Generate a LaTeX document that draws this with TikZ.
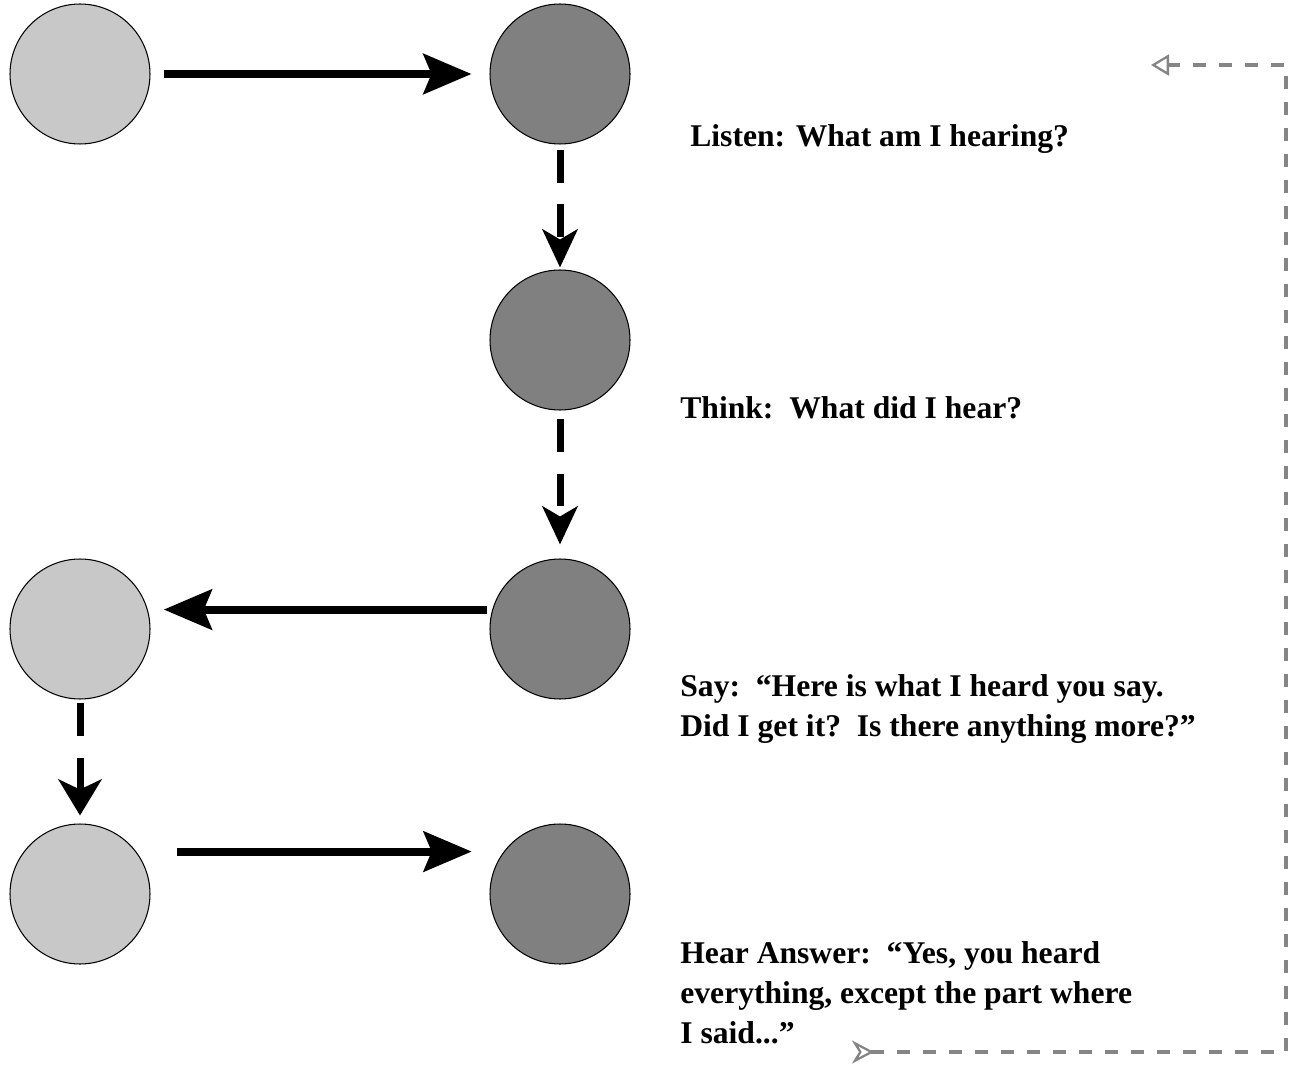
\documentclass[tikz,border=0pt]{standalone}
\usepackage{fontspec}
\setmainfont{Liberation Serif}
\usepackage{xcolor}
\usetikzlibrary{arrows.meta}
\definecolor{Pale}{HTML}{C8C8C8}
\definecolor{Slate}{HTML}{808080}
\definecolor{Trail}{HTML}{858585}
\tikzset{lightdot/.style={circle,draw=black,line width=0.6pt,fill=Pale,minimum size=2.8cm,inner sep=0pt},darkdot/.style={circle,draw=black,line width=0.6pt,fill=Slate,minimum size=2.8cm,inner sep=0pt},flowarrow/.style={draw=black,line width=0.16cm,-{Stealth[length=0.96cm,width=0.8cm,inset=0.16cm]}},stepdown/.style={draw=black,line width=0.14cm,dash pattern=on 0.66cm off 0.44cm,-{Stealth[length=0.76cm,width=0.7cm,inset=0.2cm]}},widestep/.style={stepdown,-{Stealth[length=0.72cm,width=0.86cm,inset=0.2cm]}},loopback/.style={draw=Trail,line width=0.08cm,dash pattern=on 0.26cm off 0.26cm,{Stealth[open,reversed,length=0.44cm,width=0.46cm,inset=0.14cm,line width=1.3pt]}-{Triangle[open,length=0.36cm,width=0.42cm,line width=1.3pt]}},steptext/.style={font=\bfseries\fontsize{18}{22.7}\selectfont,align=left,inner sep=0pt}}
\begin{document}
\begin{tikzpicture}[x=0.02cm,y=-0.02cm]
\useasboundingbox[fill=white] (0,0) rectangle (1291,1067);
\node[lightdot] (you1) at (80,74) {};\node[darkdot] (me1) at (560,74) {};
\node[darkdot] (me2) at (560,340) {};
\node[lightdot] (you2) at (80,629) {};\node[darkdot] (me3) at (560,629) {};
\node[lightdot] (you3) at (80,894) {};\node[darkdot] (me4) at (560,894) {};
\draw[flowarrow,shorten <=0.26cm,shorten >=0.36cm] (you1.east)--(me1.west);
\draw[stepdown,shorten <=0.1cm,shorten >=0.04cm] (me1.south)--(me2.north);
\draw[stepdown,shorten <=0.16cm,shorten >=0.28cm] (me2.south)--(me3.north);
\draw[flowarrow,shorten <=0.1cm,shorten >=0.32cm] (me3.164)--(you2.16);
\draw[widestep,shorten <=0.06cm,shorten >=0.16cm] (you2.south)--(you3.north);
\draw[flowarrow,shorten <=0.82cm,shorten >=0.64cm] (you3.37)--(me4.143);
\node[steptext,anchor=west] (listen) at (690,139) {Listen: What am I hearing?};
\node[steptext,anchor=west] (think) at (680,408) {Think:\ \ What did I hear?};
\node[steptext,anchor=north west] (say) at (680,674) {Say:\ \ “Here is what I heard you say.\\Did I get it?\ \ Is there anything more?”};
\node[steptext,anchor=north west] (answer) at (680,941) {Hear Answer:\ \ “Yes, you heard\\everything, except the part where\\I said...”};
\coordinate (fbstart) at (852,1052);\coordinate (fbcorner) at (1286,65);\coordinate (fbend) at (1151,65);
\draw[loopback] (fbstart)-|(fbcorner)--(fbend);
\end{tikzpicture}
\end{document}
